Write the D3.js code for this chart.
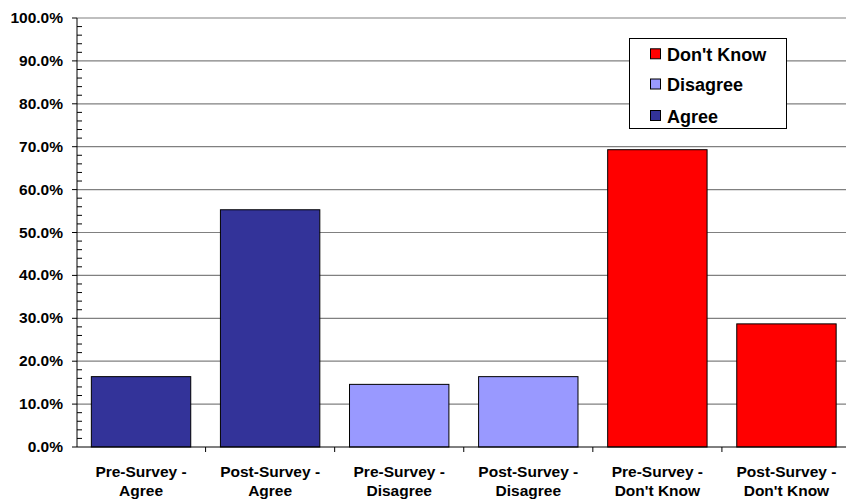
<!DOCTYPE html>
<html><head><meta charset="utf-8">
<script src="https://cdn.jsdelivr.net/npm/d3@7"></script>
<style>body{margin:0;background:#fff}svg{display:block;font-family:"Liberation Sans",Arial,sans-serif;font-weight:bold}</style>
</head><body><svg id="c" width="846" height="500"></svg>
<script>
const categories = [["Pre-Survey -","Agree"],["Post-Survey -","Agree"],["Pre-Survey -","Disagree"],["Post-Survey -","Disagree"],["Pre-Survey -","Don't Know"],["Post-Survey -","Don't Know"]];
const values = [16.4, 55.3, 14.6, 16.4, 69.3, 28.7];
const seriesOf = ["Agree","Agree","Disagree","Disagree","Don't Know","Don't Know"];
const legendItems = ["Don't Know","Disagree","Agree"];
const colors = {"Agree":"#333399","Disagree":"#9999FF","Don't Know":"#FF0000"};
const yTicks = [0,10,20,30,40,50,60,70,80,90,100];

const svg = d3.select("#c");
const x = d3.scaleBand().domain(d3.range(categories.length)).range([76.5, 851]).paddingInner(0.23).paddingOuter(0.115);
const y = d3.scaleLinear().domain([0,100]).range([447,18]);

// gridlines
svg.append("g").selectAll("line").data(yTicks.filter(d=>d>0)).join("line")
  .attr("x1",77).attr("x2",846).attr("y1",d=>y(d)).attr("y2",d=>y(d))
  .attr("stroke","#808080").attr("stroke-width",1.2);

// bars
svg.append("g").selectAll("rect").data(values).join("rect")
  .attr("x",(d,i)=>x(i)).attr("width",x.bandwidth())
  .attr("y",d=>y(d)).attr("height",d=>y(0)-y(d))
  .attr("fill",(d,i)=>colors[seriesOf[i]]).attr("stroke","#000").attr("stroke-width",1);

// y axis
const minor = d3.range(0,100.01,2).filter(d=>d%10!==0);
svg.append("g").selectAll("line").data(minor).join("line")
  .attr("x1",77).attr("x2",82).attr("y1",d=>y(d)).attr("y2",d=>y(d)).attr("stroke","#000");
svg.append("g").selectAll("line").data(yTicks).join("line")
  .attr("x1",72).attr("x2",77).attr("y1",d=>y(d)).attr("y2",d=>y(d)).attr("stroke","#000");
svg.append("line").attr("x1",77).attr("x2",77).attr("y1",y(100)).attr("y2",y(0)).attr("stroke","#000");
svg.append("g").selectAll("text").data(yTicks).join("text")
  .attr("x",63).attr("y",d=>y(d)+5).attr("text-anchor","end").attr("font-size",15.5)
  .text(d=>d.toFixed(1)+"%");

// x axis
svg.append("line").attr("x1",77).attr("x2",846).attr("y1",447).attr("y2",447).attr("stroke","#000");
const step = x.step();
svg.append("g").selectAll("line").data(d3.range(1,categories.length)).join("line")
  .attr("x1",d=>x(d)-step*x.paddingInner()/2).attr("x2",d=>x(d)-step*x.paddingInner()/2)
  .attr("y1",447).attr("y2",452).attr("stroke","#000");
const cl = svg.append("g").selectAll("text").data(categories).join("text")
  .attr("text-anchor","middle").attr("font-size",15.5)
  .attr("x",(d,i)=>x(i)+x.bandwidth()/2);
cl.append("tspan").attr("y",476.5).text(d=>d[0]).attr("x",(d,i)=>x(i)+x.bandwidth()/2);
cl.append("tspan").attr("y",495.5).text(d=>d[1]).attr("x",(d,i)=>x(i)+x.bandwidth()/2);

// legend
const lg = svg.append("g");
lg.append("rect").attr("x",629.5).attr("y",38.5).attr("width",157).attr("height",90)
  .attr("fill","#fff").attr("stroke","#000").attr("stroke-width",1);
const rowsY = [54.3,84.5,116];
legendItems.forEach((s,i)=>{
  lg.append("rect").attr("x",650.5).attr("y",rowsY[i]-5.5).attr("width",10).attr("height",10)
    .attr("fill",colors[s]).attr("stroke","#000");
  lg.append("text").attr("x",667).attr("y",rowsY[i]+6.5).attr("font-size",18).text(s);
});
</script></body></html>
